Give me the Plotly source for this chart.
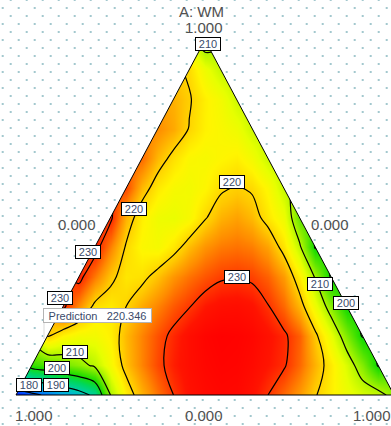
import plotly.graph_objects as go

# ---------------------------------------------------------------------------
# Response surface of the mixture, sampled on rows of constant A (A = i/12).
# Each row runs from the left edge (C = 0) to the right edge (B = 0) in
# half-steps of the lattice (x spacing 1/24 of the base).
# ---------------------------------------------------------------------------
resp_a00 = [176, 178.5, 181, 184, 187, 191.5, 210, 217.5, 222.5, 226.5, 230, 232.5, 233.5,
            234, 233.8, 232.5, 230, 227, 224, 220.3, 217.5, 215, 213, 212, 208]
resp_a01 = [202.5, 204, 206, 208, 211, 216, 221.5, 225.5, 229, 231.5, 233, 234, 234.5,
            234.3, 233.5, 232, 230.5, 227, 222.5, 218, 213, 207, 199.5]
resp_a02 = [220.5, 217, 215.5, 215.5, 217.5, 222, 225.5, 228.5, 231, 233, 234.3, 234.8,
            234.6, 234, 232.5, 230.8, 227.5, 221, 214.5, 207, 199.5]
resp_a03 = [231, 225, 219, 218, 220, 223, 225.5, 228, 229.8, 231.8, 232.8, 233, 232.3,
            230.2, 227, 222, 215, 207.5, 199.5]
resp_a04 = [231.5, 226, 221, 218.3, 218.8, 221.5, 224.5, 226.5, 228.2, 229.5, 229.8,
            229.3, 227.5, 224, 217.5, 209.5, 199.5]
resp_a05 = [232, 225.5, 219.5, 216.5, 215.8, 218.3, 221.8, 224.5, 226, 226.5, 225.8,
            223.5, 218.5, 211, 199.5]
resp_a06 = [231, 222.5, 217.5, 215, 214.5, 216, 219.6, 222.5, 223.6, 222, 218.3, 215, 205]
resp_a07 = [229, 222, 218, 216, 215.5, 216.8, 219.3, 220.4, 219.4, 216.5, 211.5]
resp_a08 = [227, 222, 218.8, 216.5, 216, 216.8, 217.5, 215.5, 211.8]
resp_a09 = [225, 223, 219.8, 217.3, 216.3, 215, 212]
resp_a10 = [222.5, 220.4, 217.5, 215.5, 212]
resp_a11 = [219.3, 215, 211.5]
resp_a12 = [206.5]

rows = [resp_a00, resp_a01, resp_a02, resp_a03, resp_a04, resp_a05, resp_a06,
        resp_a07, resp_a08, resp_a09, resp_a10, resp_a11, resp_a12]

# contour levels and their flags
contour_levels = [180, 190, 200, 210, 220, 230]
flag_values = [210, 220, 220, 230, 230, 230, 210, 200, 190, 180, 210, 200]
flag_px = [208, 134, 232, 88, 237, 60, 75, 57, 56, 28.5, 320, 346]
flag_py = [44, 209, 182, 252, 277, 298, 352, 368, 384.5, 384.5, 284, 303]

prediction_value = 220.346

# vertex / edge tick labels
comp_title = "A: WM"
vertex_ticks = ["1.000", "0.000", "0.000", "1.000", "0.000", "1.000"]
vertex_tick_px = [204, 77, 330, 34, 204, 372]
vertex_tick_py = [27, 225, 225, 415, 415, 415]

W, H = 391, 426
N = 12

# pixel placement of the triangle: B at lower left, C at lower right, A on top
X0_PX, BASE_PX, Y0_PX, HEIGHT_PX = 16.0, 378.0, 395.0, 355.0


def to_data(px, py):
    return (px - X0_PX) / BASE_PX, (Y0_PX - py) / HEIGHT_PX


xs = [k / (2 * N) for k in range(2 * N + 1)]
ys = [i / N for i in range(N + 1)]
Z = []
for i, row in enumerate(rows):
    line = [None] * (2 * N + 1)
    for k in range(i, 2 * N - i + 1):
        line[k] = row[k - i]
    Z.append(line)

zmin, zmax = 175, 235
stops = [
    (175, "rgb(0,0,255)"), (180, "rgb(0,100,255)"), (185, "rgb(0,170,230)"),
    (190, "rgb(0,205,170)"), (196, "rgb(0,215,90)"), (201, "rgb(30,220,0)"),
    (206, "rgb(110,232,0)"), (210, "rgb(175,245,0)"), (214, "rgb(230,255,0)"),
    (217, "rgb(255,245,0)"), (221, "rgb(255,200,0)"), (225, "rgb(255,140,0)"),
    (229, "rgb(255,70,0)"), (232, "rgb(255,20,0)"), (235, "rgb(255,0,0)"),
]
colorscale = [[(v - zmin) / (zmax - zmin), c] for v, c in stops]

fig = go.Figure()

fig.add_trace(go.Contour(
    x=xs, y=ys, z=Z, connectgaps=True,
    colorscale=colorscale, zmin=zmin, zmax=zmax, showscale=False,
    contours=dict(start=contour_levels[0], end=contour_levels[-1],
                  size=contour_levels[1] - contour_levels[0],
                  coloring="heatmap", showlabels=False),
    line=dict(color="black", width=1.2, smoothing=1),
    hoverinfo="skip",
))

# white mask around the simplex
fig.add_trace(go.Scatter(
    x=[0, 0.5, 1, 0, -1, 2, 2, -1, -1, 0],
    y=[0, 1, 0, 0, -1, -1, 2, 2, -1, 0],
    mode="lines", fill="toself", fillcolor="white",
    line=dict(width=0, color="white"), hoverinfo="skip", showlegend=False,
))

# simplex outline
fig.add_trace(go.Scatter(
    x=[0, 0.5, 1, 0], y=[0, 1, 0, 0], mode="lines",
    line=dict(color="black", width=1), hoverinfo="skip", showlegend=False,
))

# dotted background grid (outside the simplex only)
dx, dy = [], []
for r in range(0, H // 8 + 2):
    py = 8 * r
    px = 10.7 if r % 2 == 0 else 2.7
    while px < W:
        X, Y = to_data(px, py)
        m = 2.5 / HEIGHT_PX
        inside = (-m <= Y <= 1 + m) and (Y / 2 - m <= X <= 1 - Y / 2 + m)
        if not inside:
            dx.append(X)
            dy.append(Y)
        px += 16
fig.add_trace(go.Scatter(
    x=dx, y=dy, mode="markers",
    marker=dict(symbol="square", size=2, color="#a3c8ce", line=dict(width=0)),
    hoverinfo="skip", showlegend=False,
))

annotations = []
label_font = dict(family="Liberation Sans, Arial", size=11, color="#3a4a6a")
for v, px, py in zip(flag_values, flag_px, flag_py):
    annotations.append(dict(
        x=px / W, y=1 - py / H, xref="paper", yref="paper",
        text=str(v), showarrow=False, font=label_font,
        bgcolor="white", bordercolor="black", borderwidth=1, borderpad=1,
        width=22, height=10, xanchor="center", yanchor="middle",
    ))

# prediction flag
annotations.append(dict(
    x=97.5 / W, y=1 - 315.5 / H, xref="paper", yref="paper",
    text="Prediction\u00a0\u00a0\u00a0" + f"{prediction_value:.3f}", showarrow=False,
    font=label_font, bgcolor="white", bordercolor="#b4b4b4", borderwidth=1,
    borderpad=1, width=105, height=11, xanchor="center", yanchor="middle",
))

tick_font = dict(family="Liberation Sans, Arial", size=15, color="#505050")
annotations.append(dict(
    x=201 / W, y=1 - 11 / H, xref="paper", yref="paper", text=comp_title,
    showarrow=False, font=tick_font, xanchor="center", yanchor="middle",
))
for t, px, py in zip(vertex_ticks, vertex_tick_px, vertex_tick_py):
    annotations.append(dict(
        x=px / W, y=1 - py / H, xref="paper", yref="paper", text=t,
        showarrow=False, font=tick_font, xanchor="center", yanchor="middle",
    ))

fig.update_layout(
    width=W, height=H, margin=dict(l=0, r=0, t=0, b=0),
    paper_bgcolor="white", plot_bgcolor="white", showlegend=False,
    xaxis=dict(range=[to_data(0, 0)[0], to_data(W, 0)[0]], visible=False,
               showgrid=False, zeroline=False, fixedrange=True),
    yaxis=dict(range=[to_data(0, H)[1], to_data(0, 0)[1]], visible=False,
               showgrid=False, zeroline=False, fixedrange=True),
    annotations=annotations,
    shapes=[dict(type="line", xref="paper", yref="paper",
                 x0=44 / W, x1=44 / W, y0=1 - 323 / H, y1=1 - 339 / H,
                 line=dict(color="#e6e6e6", width=1.5))],
)

fig.write_html("out.html")
